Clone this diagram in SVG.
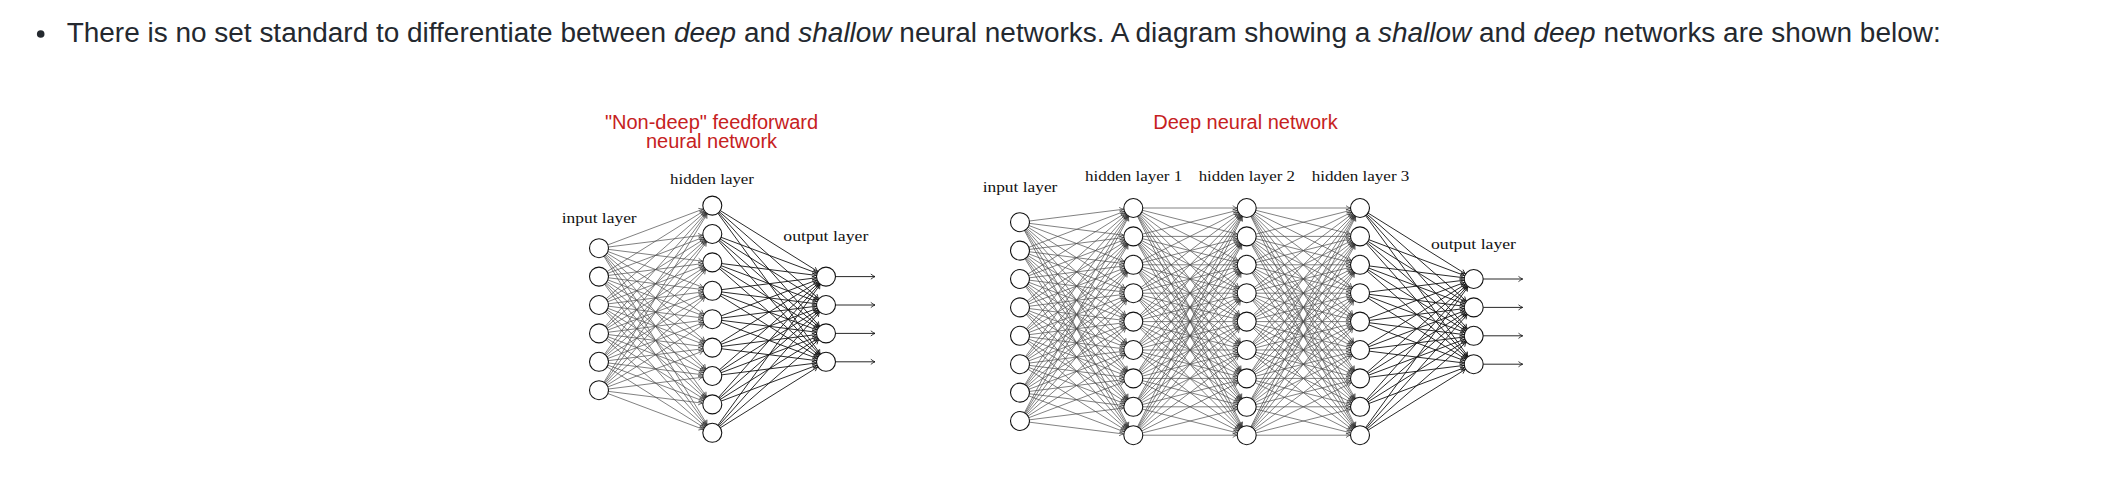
<svg xmlns="http://www.w3.org/2000/svg" width="2104" height="486" viewBox="0 0 2104 486">
<style>
.bg{fill:#ffffff}
.main{font-family:"Liberation Sans",Arial,Helvetica,sans-serif;font-size:27px;fill:#24292f}
.title{font-family:"Liberation Sans",Arial,Helvetica,sans-serif;font-size:20px;fill:#c62121;text-anchor:middle}
.lbl{font-family:"Liberation Serif","DejaVu Serif",serif;font-size:15px;fill:#111111}
.nd{fill:#ffffff;stroke:#111111;stroke-width:1.1}
.thin path{fill:none;stroke:#4a4a4a;stroke-width:0.7;marker-end:url(#ah)}
.dark path{fill:none;stroke:#111111;stroke-width:0.9;marker-end:url(#ahd)}
.out path{fill:none;stroke:#111111;stroke-width:0.9;marker-end:url(#ao)}
</style>
<defs>
<marker id="ah" markerUnits="userSpaceOnUse" markerWidth="1" markerHeight="1" refX="0" refY="0" orient="auto" style="overflow:visible"><path d="M-14 -2.3 Q-11.6 -0.6 -9.9 0 Q-11.6 0.6 -14 2.3" fill="none" stroke="#333333" stroke-width="0.7"/></marker>
<marker id="ahd" markerUnits="userSpaceOnUse" markerWidth="1" markerHeight="1" refX="0" refY="0" orient="auto" style="overflow:visible"><path d="M-14 -2.3 Q-11.6 -0.6 -9.9 0 Q-11.6 0.6 -14 2.3" fill="none" stroke="#111111" stroke-width="0.8"/></marker>
<marker id="ao" markerUnits="userSpaceOnUse" markerWidth="1" markerHeight="1" refX="0" refY="0" orient="auto" style="overflow:visible"><path d="M-4.2 -2.6 Q-1.7 -0.6 0 0 Q-1.7 0.6 -4.2 2.6" fill="none" stroke="#111111" stroke-width="0.8"/></marker>
</defs>
<rect class="bg" x="0" y="0" width="2104" height="486"/>

<g id="intro">
<circle cx="40.7" cy="34" r="3.8" fill="#24292f"/>
<text class="main" x="66.7" y="41.7" textLength="1874" lengthAdjust="spacingAndGlyphs">There is no set standard to differentiate between <tspan font-style="italic">deep</tspan> and <tspan font-style="italic">shallow</tspan> neural networks. A diagram showing a <tspan font-style="italic">shallow</tspan> and <tspan font-style="italic">deep</tspan> networks are shown below:</text>
</g>

<g id="titles">
<text class="title" x="711.5" y="129.3">"Non-deep" feedforward</text>
<text class="title" x="711.5" y="148.3">neural network</text>
<text class="title" x="1245.5" y="129">Deep neural network</text>
</g>

<g id="labels">
<text class="lbl" x="561.7" y="223.3" textLength="75" lengthAdjust="spacingAndGlyphs">input layer</text>
<text class="lbl" x="670" y="184" textLength="84" lengthAdjust="spacingAndGlyphs">hidden layer</text>
<text class="lbl" x="783.3" y="240.7" textLength="85" lengthAdjust="spacingAndGlyphs">output layer</text>
<text class="lbl" x="982.7" y="192.3" textLength="74.7" lengthAdjust="spacingAndGlyphs">input layer</text>
<text class="lbl" x="1085" y="181" textLength="97.3" lengthAdjust="spacingAndGlyphs">hidden layer 1</text>
<text class="lbl" x="1198.7" y="181" textLength="96.3" lengthAdjust="spacingAndGlyphs">hidden layer 2</text>
<text class="lbl" x="1311.7" y="181" textLength="97.7" lengthAdjust="spacingAndGlyphs">hidden layer 3</text>
<text class="lbl" x="1431" y="249" textLength="85" lengthAdjust="spacingAndGlyphs">output layer</text>
</g>

<g id="connectors">
<g class="thin" id="shallow-in-hidden">
<path d="M599 248.2L712.3 205.6"/><path d="M599 248.2L712.3 234"/><path d="M599 248.2L712.3 262.4"/><path d="M599 248.2L712.3 290.8"/><path d="M599 248.2L712.3 319.2"/><path d="M599 248.2L712.3 347.6"/><path d="M599 248.2L712.3 376"/><path d="M599 248.2L712.3 404.4"/><path d="M599 248.2L712.3 432.8"/>
<path d="M599 276.6L712.3 205.6"/><path d="M599 276.6L712.3 234"/><path d="M599 276.6L712.3 262.4"/><path d="M599 276.6L712.3 290.8"/><path d="M599 276.6L712.3 319.2"/><path d="M599 276.6L712.3 347.6"/><path d="M599 276.6L712.3 376"/><path d="M599 276.6L712.3 404.4"/><path d="M599 276.6L712.3 432.8"/>
<path d="M599 305L712.3 205.6"/><path d="M599 305L712.3 234"/><path d="M599 305L712.3 262.4"/><path d="M599 305L712.3 290.8"/><path d="M599 305L712.3 319.2"/><path d="M599 305L712.3 347.6"/><path d="M599 305L712.3 376"/><path d="M599 305L712.3 404.4"/><path d="M599 305L712.3 432.8"/>
<path d="M599 333.4L712.3 205.6"/><path d="M599 333.4L712.3 234"/><path d="M599 333.4L712.3 262.4"/><path d="M599 333.4L712.3 290.8"/><path d="M599 333.4L712.3 319.2"/><path d="M599 333.4L712.3 347.6"/><path d="M599 333.4L712.3 376"/><path d="M599 333.4L712.3 404.4"/><path d="M599 333.4L712.3 432.8"/>
<path d="M599 361.8L712.3 205.6"/><path d="M599 361.8L712.3 234"/><path d="M599 361.8L712.3 262.4"/><path d="M599 361.8L712.3 290.8"/><path d="M599 361.8L712.3 319.2"/><path d="M599 361.8L712.3 347.6"/><path d="M599 361.8L712.3 376"/><path d="M599 361.8L712.3 404.4"/><path d="M599 361.8L712.3 432.8"/>
<path d="M599 390.2L712.3 205.6"/><path d="M599 390.2L712.3 234"/><path d="M599 390.2L712.3 262.4"/><path d="M599 390.2L712.3 290.8"/><path d="M599 390.2L712.3 319.2"/><path d="M599 390.2L712.3 347.6"/><path d="M599 390.2L712.3 376"/><path d="M599 390.2L712.3 404.4"/><path d="M599 390.2L712.3 432.8"/>
</g>
<g class="dark" id="shallow-hidden-out">
<path d="M712.3 205.6L826 276.6"/><path d="M712.3 205.6L826 305"/><path d="M712.3 205.6L826 333.4"/><path d="M712.3 205.6L826 361.8"/>
<path d="M712.3 234L826 276.6"/><path d="M712.3 234L826 305"/><path d="M712.3 234L826 333.4"/><path d="M712.3 234L826 361.8"/>
<path d="M712.3 262.4L826 276.6"/><path d="M712.3 262.4L826 305"/><path d="M712.3 262.4L826 333.4"/><path d="M712.3 262.4L826 361.8"/>
<path d="M712.3 290.8L826 276.6"/><path d="M712.3 290.8L826 305"/><path d="M712.3 290.8L826 333.4"/><path d="M712.3 290.8L826 361.8"/>
<path d="M712.3 319.2L826 276.6"/><path d="M712.3 319.2L826 305"/><path d="M712.3 319.2L826 333.4"/><path d="M712.3 319.2L826 361.8"/>
<path d="M712.3 347.6L826 276.6"/><path d="M712.3 347.6L826 305"/><path d="M712.3 347.6L826 333.4"/><path d="M712.3 347.6L826 361.8"/>
<path d="M712.3 376L826 276.6"/><path d="M712.3 376L826 305"/><path d="M712.3 376L826 333.4"/><path d="M712.3 376L826 361.8"/>
<path d="M712.3 404.4L826 276.6"/><path d="M712.3 404.4L826 305"/><path d="M712.3 404.4L826 333.4"/><path d="M712.3 404.4L826 361.8"/>
<path d="M712.3 432.8L826 276.6"/><path d="M712.3 432.8L826 305"/><path d="M712.3 432.8L826 333.4"/><path d="M712.3 432.8L826 361.8"/>
</g>
<g class="out" id="shallow-outputs">
<path d="M835.5 276.6L875 276.6"/><path d="M835.5 305L875 305"/><path d="M835.5 333.4L875 333.4"/><path d="M835.5 361.8L875 361.8"/>
</g>

<g class="thin" id="deep-in-h1">
<path d="M1020 222.2L1133.3 208"/><path d="M1020 222.2L1133.3 236.4"/><path d="M1020 222.2L1133.3 264.8"/><path d="M1020 222.2L1133.3 293.2"/><path d="M1020 222.2L1133.3 321.6"/><path d="M1020 222.2L1133.3 350"/><path d="M1020 222.2L1133.3 378.4"/><path d="M1020 222.2L1133.3 406.8"/><path d="M1020 222.2L1133.3 435.2"/>
<path d="M1020 250.6L1133.3 208"/><path d="M1020 250.6L1133.3 236.4"/><path d="M1020 250.6L1133.3 264.8"/><path d="M1020 250.6L1133.3 293.2"/><path d="M1020 250.6L1133.3 321.6"/><path d="M1020 250.6L1133.3 350"/><path d="M1020 250.6L1133.3 378.4"/><path d="M1020 250.6L1133.3 406.8"/><path d="M1020 250.6L1133.3 435.2"/>
<path d="M1020 279L1133.3 208"/><path d="M1020 279L1133.3 236.4"/><path d="M1020 279L1133.3 264.8"/><path d="M1020 279L1133.3 293.2"/><path d="M1020 279L1133.3 321.6"/><path d="M1020 279L1133.3 350"/><path d="M1020 279L1133.3 378.4"/><path d="M1020 279L1133.3 406.8"/><path d="M1020 279L1133.3 435.2"/>
<path d="M1020 307.4L1133.3 208"/><path d="M1020 307.4L1133.3 236.4"/><path d="M1020 307.4L1133.3 264.8"/><path d="M1020 307.4L1133.3 293.2"/><path d="M1020 307.4L1133.3 321.6"/><path d="M1020 307.4L1133.3 350"/><path d="M1020 307.4L1133.3 378.4"/><path d="M1020 307.4L1133.3 406.8"/><path d="M1020 307.4L1133.3 435.2"/>
<path d="M1020 335.8L1133.3 208"/><path d="M1020 335.8L1133.3 236.4"/><path d="M1020 335.8L1133.3 264.8"/><path d="M1020 335.8L1133.3 293.2"/><path d="M1020 335.8L1133.3 321.6"/><path d="M1020 335.8L1133.3 350"/><path d="M1020 335.8L1133.3 378.4"/><path d="M1020 335.8L1133.3 406.8"/><path d="M1020 335.8L1133.3 435.2"/>
<path d="M1020 364.2L1133.3 208"/><path d="M1020 364.2L1133.3 236.4"/><path d="M1020 364.2L1133.3 264.8"/><path d="M1020 364.2L1133.3 293.2"/><path d="M1020 364.2L1133.3 321.6"/><path d="M1020 364.2L1133.3 350"/><path d="M1020 364.2L1133.3 378.4"/><path d="M1020 364.2L1133.3 406.8"/><path d="M1020 364.2L1133.3 435.2"/>
<path d="M1020 392.6L1133.3 208"/><path d="M1020 392.6L1133.3 236.4"/><path d="M1020 392.6L1133.3 264.8"/><path d="M1020 392.6L1133.3 293.2"/><path d="M1020 392.6L1133.3 321.6"/><path d="M1020 392.6L1133.3 350"/><path d="M1020 392.6L1133.3 378.4"/><path d="M1020 392.6L1133.3 406.8"/><path d="M1020 392.6L1133.3 435.2"/>
<path d="M1020 421L1133.3 208"/><path d="M1020 421L1133.3 236.4"/><path d="M1020 421L1133.3 264.8"/><path d="M1020 421L1133.3 293.2"/><path d="M1020 421L1133.3 321.6"/><path d="M1020 421L1133.3 350"/><path d="M1020 421L1133.3 378.4"/><path d="M1020 421L1133.3 406.8"/><path d="M1020 421L1133.3 435.2"/>
</g>
<g class="thin" id="deep-h1-h2">
<path d="M1133.3 208L1246.7 208"/><path d="M1133.3 208L1246.7 236.4"/><path d="M1133.3 208L1246.7 264.8"/><path d="M1133.3 208L1246.7 293.2"/><path d="M1133.3 208L1246.7 321.6"/><path d="M1133.3 208L1246.7 350"/><path d="M1133.3 208L1246.7 378.4"/><path d="M1133.3 208L1246.7 406.8"/><path d="M1133.3 208L1246.7 435.2"/>
<path d="M1133.3 236.4L1246.7 208"/><path d="M1133.3 236.4L1246.7 236.4"/><path d="M1133.3 236.4L1246.7 264.8"/><path d="M1133.3 236.4L1246.7 293.2"/><path d="M1133.3 236.4L1246.7 321.6"/><path d="M1133.3 236.4L1246.7 350"/><path d="M1133.3 236.4L1246.7 378.4"/><path d="M1133.3 236.4L1246.7 406.8"/><path d="M1133.3 236.4L1246.7 435.2"/>
<path d="M1133.3 264.8L1246.7 208"/><path d="M1133.3 264.8L1246.7 236.4"/><path d="M1133.3 264.8L1246.7 264.8"/><path d="M1133.3 264.8L1246.7 293.2"/><path d="M1133.3 264.8L1246.7 321.6"/><path d="M1133.3 264.8L1246.7 350"/><path d="M1133.3 264.8L1246.7 378.4"/><path d="M1133.3 264.8L1246.7 406.8"/><path d="M1133.3 264.8L1246.7 435.2"/>
<path d="M1133.3 293.2L1246.7 208"/><path d="M1133.3 293.2L1246.7 236.4"/><path d="M1133.3 293.2L1246.7 264.8"/><path d="M1133.3 293.2L1246.7 293.2"/><path d="M1133.3 293.2L1246.7 321.6"/><path d="M1133.3 293.2L1246.7 350"/><path d="M1133.3 293.2L1246.7 378.4"/><path d="M1133.3 293.2L1246.7 406.8"/><path d="M1133.3 293.2L1246.7 435.2"/>
<path d="M1133.3 321.6L1246.7 208"/><path d="M1133.3 321.6L1246.7 236.4"/><path d="M1133.3 321.6L1246.7 264.8"/><path d="M1133.3 321.6L1246.7 293.2"/><path d="M1133.3 321.6L1246.7 321.6"/><path d="M1133.3 321.6L1246.7 350"/><path d="M1133.3 321.6L1246.7 378.4"/><path d="M1133.3 321.6L1246.7 406.8"/><path d="M1133.3 321.6L1246.7 435.2"/>
<path d="M1133.3 350L1246.7 208"/><path d="M1133.3 350L1246.7 236.4"/><path d="M1133.3 350L1246.7 264.8"/><path d="M1133.3 350L1246.7 293.2"/><path d="M1133.3 350L1246.7 321.6"/><path d="M1133.3 350L1246.7 350"/><path d="M1133.3 350L1246.7 378.4"/><path d="M1133.3 350L1246.7 406.8"/><path d="M1133.3 350L1246.7 435.2"/>
<path d="M1133.3 378.4L1246.7 208"/><path d="M1133.3 378.4L1246.7 236.4"/><path d="M1133.3 378.4L1246.7 264.8"/><path d="M1133.3 378.4L1246.7 293.2"/><path d="M1133.3 378.4L1246.7 321.6"/><path d="M1133.3 378.4L1246.7 350"/><path d="M1133.3 378.4L1246.7 378.4"/><path d="M1133.3 378.4L1246.7 406.8"/><path d="M1133.3 378.4L1246.7 435.2"/>
<path d="M1133.3 406.8L1246.7 208"/><path d="M1133.3 406.8L1246.7 236.4"/><path d="M1133.3 406.8L1246.7 264.8"/><path d="M1133.3 406.8L1246.7 293.2"/><path d="M1133.3 406.8L1246.7 321.6"/><path d="M1133.3 406.8L1246.7 350"/><path d="M1133.3 406.8L1246.7 378.4"/><path d="M1133.3 406.8L1246.7 406.8"/><path d="M1133.3 406.8L1246.7 435.2"/>
<path d="M1133.3 435.2L1246.7 208"/><path d="M1133.3 435.2L1246.7 236.4"/><path d="M1133.3 435.2L1246.7 264.8"/><path d="M1133.3 435.2L1246.7 293.2"/><path d="M1133.3 435.2L1246.7 321.6"/><path d="M1133.3 435.2L1246.7 350"/><path d="M1133.3 435.2L1246.7 378.4"/><path d="M1133.3 435.2L1246.7 406.8"/><path d="M1133.3 435.2L1246.7 435.2"/>
</g>
<g class="thin" id="deep-h2-h3">
<path d="M1246.7 208L1360 208"/><path d="M1246.7 208L1360 236.4"/><path d="M1246.7 208L1360 264.8"/><path d="M1246.7 208L1360 293.2"/><path d="M1246.7 208L1360 321.6"/><path d="M1246.7 208L1360 350"/><path d="M1246.7 208L1360 378.4"/><path d="M1246.7 208L1360 406.8"/><path d="M1246.7 208L1360 435.2"/>
<path d="M1246.7 236.4L1360 208"/><path d="M1246.7 236.4L1360 236.4"/><path d="M1246.7 236.4L1360 264.8"/><path d="M1246.7 236.4L1360 293.2"/><path d="M1246.7 236.4L1360 321.6"/><path d="M1246.7 236.4L1360 350"/><path d="M1246.7 236.4L1360 378.4"/><path d="M1246.7 236.4L1360 406.8"/><path d="M1246.7 236.4L1360 435.2"/>
<path d="M1246.7 264.8L1360 208"/><path d="M1246.7 264.8L1360 236.4"/><path d="M1246.7 264.8L1360 264.8"/><path d="M1246.7 264.8L1360 293.2"/><path d="M1246.7 264.8L1360 321.6"/><path d="M1246.7 264.8L1360 350"/><path d="M1246.7 264.8L1360 378.4"/><path d="M1246.7 264.8L1360 406.8"/><path d="M1246.7 264.8L1360 435.2"/>
<path d="M1246.7 293.2L1360 208"/><path d="M1246.7 293.2L1360 236.4"/><path d="M1246.7 293.2L1360 264.8"/><path d="M1246.7 293.2L1360 293.2"/><path d="M1246.7 293.2L1360 321.6"/><path d="M1246.7 293.2L1360 350"/><path d="M1246.7 293.2L1360 378.4"/><path d="M1246.7 293.2L1360 406.8"/><path d="M1246.7 293.2L1360 435.2"/>
<path d="M1246.7 321.6L1360 208"/><path d="M1246.7 321.6L1360 236.4"/><path d="M1246.7 321.6L1360 264.8"/><path d="M1246.7 321.6L1360 293.2"/><path d="M1246.7 321.6L1360 321.6"/><path d="M1246.7 321.6L1360 350"/><path d="M1246.7 321.6L1360 378.4"/><path d="M1246.7 321.6L1360 406.8"/><path d="M1246.7 321.6L1360 435.2"/>
<path d="M1246.7 350L1360 208"/><path d="M1246.7 350L1360 236.4"/><path d="M1246.7 350L1360 264.8"/><path d="M1246.7 350L1360 293.2"/><path d="M1246.7 350L1360 321.6"/><path d="M1246.7 350L1360 350"/><path d="M1246.7 350L1360 378.4"/><path d="M1246.7 350L1360 406.8"/><path d="M1246.7 350L1360 435.2"/>
<path d="M1246.7 378.4L1360 208"/><path d="M1246.7 378.4L1360 236.4"/><path d="M1246.7 378.4L1360 264.8"/><path d="M1246.7 378.4L1360 293.2"/><path d="M1246.7 378.4L1360 321.6"/><path d="M1246.7 378.4L1360 350"/><path d="M1246.7 378.4L1360 378.4"/><path d="M1246.7 378.4L1360 406.8"/><path d="M1246.7 378.4L1360 435.2"/>
<path d="M1246.7 406.8L1360 208"/><path d="M1246.7 406.8L1360 236.4"/><path d="M1246.7 406.8L1360 264.8"/><path d="M1246.7 406.8L1360 293.2"/><path d="M1246.7 406.8L1360 321.6"/><path d="M1246.7 406.8L1360 350"/><path d="M1246.7 406.8L1360 378.4"/><path d="M1246.7 406.8L1360 406.8"/><path d="M1246.7 406.8L1360 435.2"/>
<path d="M1246.7 435.2L1360 208"/><path d="M1246.7 435.2L1360 236.4"/><path d="M1246.7 435.2L1360 264.8"/><path d="M1246.7 435.2L1360 293.2"/><path d="M1246.7 435.2L1360 321.6"/><path d="M1246.7 435.2L1360 350"/><path d="M1246.7 435.2L1360 378.4"/><path d="M1246.7 435.2L1360 406.8"/><path d="M1246.7 435.2L1360 435.2"/>
</g>
<g class="dark" id="deep-h3-out">
<path d="M1360 208L1473.7 279"/><path d="M1360 208L1473.7 307.4"/><path d="M1360 208L1473.7 335.8"/><path d="M1360 208L1473.7 364.2"/>
<path d="M1360 236.4L1473.7 279"/><path d="M1360 236.4L1473.7 307.4"/><path d="M1360 236.4L1473.7 335.8"/><path d="M1360 236.4L1473.7 364.2"/>
<path d="M1360 264.8L1473.7 279"/><path d="M1360 264.8L1473.7 307.4"/><path d="M1360 264.8L1473.7 335.8"/><path d="M1360 264.8L1473.7 364.2"/>
<path d="M1360 293.2L1473.7 279"/><path d="M1360 293.2L1473.7 307.4"/><path d="M1360 293.2L1473.7 335.8"/><path d="M1360 293.2L1473.7 364.2"/>
<path d="M1360 321.6L1473.7 279"/><path d="M1360 321.6L1473.7 307.4"/><path d="M1360 321.6L1473.7 335.8"/><path d="M1360 321.6L1473.7 364.2"/>
<path d="M1360 350L1473.7 279"/><path d="M1360 350L1473.7 307.4"/><path d="M1360 350L1473.7 335.8"/><path d="M1360 350L1473.7 364.2"/>
<path d="M1360 378.4L1473.7 279"/><path d="M1360 378.4L1473.7 307.4"/><path d="M1360 378.4L1473.7 335.8"/><path d="M1360 378.4L1473.7 364.2"/>
<path d="M1360 406.8L1473.7 279"/><path d="M1360 406.8L1473.7 307.4"/><path d="M1360 406.8L1473.7 335.8"/><path d="M1360 406.8L1473.7 364.2"/>
<path d="M1360 435.2L1473.7 279"/><path d="M1360 435.2L1473.7 307.4"/><path d="M1360 435.2L1473.7 335.8"/><path d="M1360 435.2L1473.7 364.2"/>
</g>
<g class="out" id="deep-outputs">
<path d="M1483.2 279L1522.7 279"/><path d="M1483.2 307.4L1522.7 307.4"/><path d="M1483.2 335.8L1522.7 335.8"/><path d="M1483.2 364.2L1522.7 364.2"/>
</g>
</g>

<g id="shallow-nodes">
<g id="s-in-1"><circle class="nd" cx="599" cy="248.2" r="9.5"/></g>
<g id="s-in-2"><circle class="nd" cx="599" cy="276.6" r="9.5"/></g>
<g id="s-in-3"><circle class="nd" cx="599" cy="305" r="9.5"/></g>
<g id="s-in-4"><circle class="nd" cx="599" cy="333.4" r="9.5"/></g>
<g id="s-in-5"><circle class="nd" cx="599" cy="361.8" r="9.5"/></g>
<g id="s-in-6"><circle class="nd" cx="599" cy="390.2" r="9.5"/></g>
<g id="s-h-1"><circle class="nd" cx="712.3" cy="205.6" r="9.5"/></g>
<g id="s-h-2"><circle class="nd" cx="712.3" cy="234" r="9.5"/></g>
<g id="s-h-3"><circle class="nd" cx="712.3" cy="262.4" r="9.5"/></g>
<g id="s-h-4"><circle class="nd" cx="712.3" cy="290.8" r="9.5"/></g>
<g id="s-h-5"><circle class="nd" cx="712.3" cy="319.2" r="9.5"/></g>
<g id="s-h-6"><circle class="nd" cx="712.3" cy="347.6" r="9.5"/></g>
<g id="s-h-7"><circle class="nd" cx="712.3" cy="376" r="9.5"/></g>
<g id="s-h-8"><circle class="nd" cx="712.3" cy="404.4" r="9.5"/></g>
<g id="s-h-9"><circle class="nd" cx="712.3" cy="432.8" r="9.5"/></g>
<g id="s-out-1"><circle class="nd" cx="826" cy="276.6" r="9.5"/></g>
<g id="s-out-2"><circle class="nd" cx="826" cy="305" r="9.5"/></g>
<g id="s-out-3"><circle class="nd" cx="826" cy="333.4" r="9.5"/></g>
<g id="s-out-4"><circle class="nd" cx="826" cy="361.8" r="9.5"/></g>
</g>

<g id="deep-nodes">
<g id="d-in-1"><circle class="nd" cx="1020" cy="222.2" r="9.5"/></g>
<g id="d-in-2"><circle class="nd" cx="1020" cy="250.6" r="9.5"/></g>
<g id="d-in-3"><circle class="nd" cx="1020" cy="279" r="9.5"/></g>
<g id="d-in-4"><circle class="nd" cx="1020" cy="307.4" r="9.5"/></g>
<g id="d-in-5"><circle class="nd" cx="1020" cy="335.8" r="9.5"/></g>
<g id="d-in-6"><circle class="nd" cx="1020" cy="364.2" r="9.5"/></g>
<g id="d-in-7"><circle class="nd" cx="1020" cy="392.6" r="9.5"/></g>
<g id="d-in-8"><circle class="nd" cx="1020" cy="421" r="9.5"/></g>
<g id="d-h1-1"><circle class="nd" cx="1133.3" cy="208" r="9.5"/></g>
<g id="d-h1-2"><circle class="nd" cx="1133.3" cy="236.4" r="9.5"/></g>
<g id="d-h1-3"><circle class="nd" cx="1133.3" cy="264.8" r="9.5"/></g>
<g id="d-h1-4"><circle class="nd" cx="1133.3" cy="293.2" r="9.5"/></g>
<g id="d-h1-5"><circle class="nd" cx="1133.3" cy="321.6" r="9.5"/></g>
<g id="d-h1-6"><circle class="nd" cx="1133.3" cy="350" r="9.5"/></g>
<g id="d-h1-7"><circle class="nd" cx="1133.3" cy="378.4" r="9.5"/></g>
<g id="d-h1-8"><circle class="nd" cx="1133.3" cy="406.8" r="9.5"/></g>
<g id="d-h1-9"><circle class="nd" cx="1133.3" cy="435.2" r="9.5"/></g>
<g id="d-h2-1"><circle class="nd" cx="1246.7" cy="208" r="9.5"/></g>
<g id="d-h2-2"><circle class="nd" cx="1246.7" cy="236.4" r="9.5"/></g>
<g id="d-h2-3"><circle class="nd" cx="1246.7" cy="264.8" r="9.5"/></g>
<g id="d-h2-4"><circle class="nd" cx="1246.7" cy="293.2" r="9.5"/></g>
<g id="d-h2-5"><circle class="nd" cx="1246.7" cy="321.6" r="9.5"/></g>
<g id="d-h2-6"><circle class="nd" cx="1246.7" cy="350" r="9.5"/></g>
<g id="d-h2-7"><circle class="nd" cx="1246.7" cy="378.4" r="9.5"/></g>
<g id="d-h2-8"><circle class="nd" cx="1246.7" cy="406.8" r="9.5"/></g>
<g id="d-h2-9"><circle class="nd" cx="1246.7" cy="435.2" r="9.5"/></g>
<g id="d-h3-1"><circle class="nd" cx="1360" cy="208" r="9.5"/></g>
<g id="d-h3-2"><circle class="nd" cx="1360" cy="236.4" r="9.5"/></g>
<g id="d-h3-3"><circle class="nd" cx="1360" cy="264.8" r="9.5"/></g>
<g id="d-h3-4"><circle class="nd" cx="1360" cy="293.2" r="9.5"/></g>
<g id="d-h3-5"><circle class="nd" cx="1360" cy="321.6" r="9.5"/></g>
<g id="d-h3-6"><circle class="nd" cx="1360" cy="350" r="9.5"/></g>
<g id="d-h3-7"><circle class="nd" cx="1360" cy="378.4" r="9.5"/></g>
<g id="d-h3-8"><circle class="nd" cx="1360" cy="406.8" r="9.5"/></g>
<g id="d-h3-9"><circle class="nd" cx="1360" cy="435.2" r="9.5"/></g>
<g id="d-out-1"><circle class="nd" cx="1473.7" cy="279" r="9.5"/></g>
<g id="d-out-2"><circle class="nd" cx="1473.7" cy="307.4" r="9.5"/></g>
<g id="d-out-3"><circle class="nd" cx="1473.7" cy="335.8" r="9.5"/></g>
<g id="d-out-4"><circle class="nd" cx="1473.7" cy="364.2" r="9.5"/></g>
</g>
</svg>
